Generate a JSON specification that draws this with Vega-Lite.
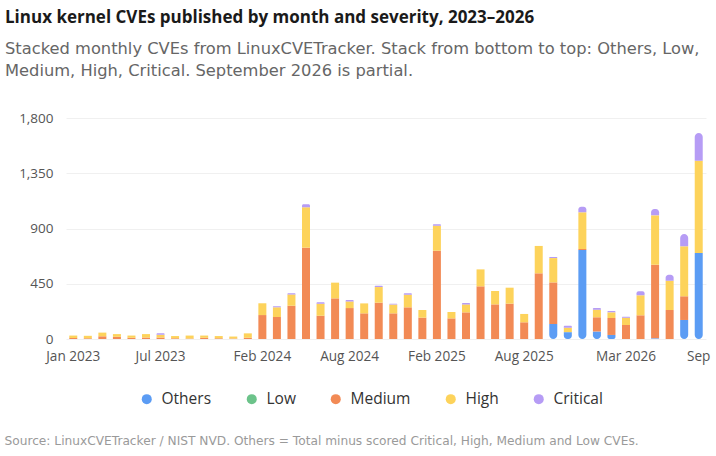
{
  "$schema": "https://vega.github.io/schema/vega-lite/v6.json",
  "width": 640,
  "height": 221,
  "autosize": {"type": "none"},
  "padding": {"left": 66, "top": 118, "right": 10, "bottom": 117},
  "background": "white",
  "title": {
    "text": "Linux kernel CVEs published by month and severity, 2023–2026",
    "subtitle": [
      "Stacked monthly CVEs from LinuxCVETracker. Stack from bottom to top: Others, Low,",
      "Medium, High, Critical. September 2026 is partial."
    ],
    "anchor": "start",
    "frame": "group",
    "dx": -61,
    "offset": 31,
    "font": "Open Sans",
    "fontSize": 17,
    "fontWeight": "bold",
    "color": "#1a1a1a",
    "subtitleFont": "DejaVu Sans",
    "subtitleFontSize": 16.3,
    "subtitleColor": "#666666",
    "subtitleLineHeight": 22,
    "subtitlePadding": 14
  },
  "data": {
    "values": [
      {"month": "2023-01", "Others": 0, "Medium": 8, "High": 20, "Critical": 0},
      {"month": "2023-02", "Others": 0, "Medium": 6, "High": 20, "Critical": 0},
      {"month": "2023-03", "Others": 0, "Medium": 22, "High": 30, "Critical": 0},
      {"month": "2023-04", "Others": 0, "Medium": 18, "High": 22, "Critical": 0},
      {"month": "2023-05", "Others": 0, "Medium": 10, "High": 18, "Critical": 0},
      {"month": "2023-06", "Others": 0, "Medium": 12, "High": 28, "Critical": 0},
      {"month": "2023-07", "Others": 0, "Medium": 12, "High": 22, "Critical": 12},
      {"month": "2023-08", "Others": 0, "Medium": 6, "High": 18, "Critical": 0},
      {"month": "2023-09", "Others": 0, "Medium": 4, "High": 24, "Critical": 0},
      {"month": "2023-10", "Others": 0, "Medium": 10, "High": 18, "Critical": 0},
      {"month": "2023-11", "Others": 0, "Medium": 6, "High": 18, "Critical": 0},
      {"month": "2023-12", "Others": 0, "Medium": 4, "High": 16, "Critical": 0},
      {"month": "2024-01", "Others": 0, "Medium": 10, "High": 36, "Critical": 0},
      {"month": "2024-02", "Others": 0, "Medium": 195, "High": 96, "Critical": 0},
      {"month": "2024-03", "Others": 0, "Medium": 179, "High": 79, "Critical": 8},
      {"month": "2024-04", "Others": 0, "Medium": 271, "High": 92, "Critical": 9},
      {"month": "2024-05", "Others": 0, "Medium": 744, "High": 329, "Critical": 24},
      {"month": "2024-06", "Others": 0, "Medium": 190, "High": 98, "Critical": 11},
      {"month": "2024-07", "Others": 0, "Medium": 331, "High": 128, "Critical": 0},
      {"month": "2024-08", "Others": 0, "Medium": 252, "High": 54, "Critical": 11},
      {"month": "2024-09", "Others": 0, "Medium": 209, "High": 81, "Critical": 0},
      {"month": "2024-10", "Others": 0, "Medium": 296, "High": 127, "Critical": 11},
      {"month": "2024-11", "Others": 0, "Medium": 209, "High": 71, "Critical": 8},
      {"month": "2024-12", "Others": 0, "Medium": 258, "High": 103, "Critical": 11},
      {"month": "2025-01", "Others": 0, "Medium": 174, "High": 62, "Critical": 0},
      {"month": "2025-02", "Others": 0, "Medium": 719, "High": 204, "Critical": 11},
      {"month": "2025-03", "Others": 0, "Medium": 168, "High": 52, "Critical": 0},
      {"month": "2025-04", "Others": 0, "Medium": 217, "High": 65, "Critical": 11},
      {"month": "2025-05", "Others": 0, "Medium": 429, "High": 138, "Critical": 0},
      {"month": "2025-06", "Others": 0, "Medium": 282, "High": 109, "Critical": 0},
      {"month": "2025-07", "Others": 0, "Medium": 288, "High": 130, "Critical": 0},
      {"month": "2025-08", "Others": 0, "Medium": 136, "High": 68, "Critical": 0},
      {"month": "2025-09", "Others": 0, "Medium": 535, "High": 223, "Critical": 0},
      {"month": "2025-10", "Others": 122, "Medium": 339, "High": 198, "Critical": 8},
      {"month": "2025-11", "Others": 54, "Medium": 0, "High": 38, "Critical": 16},
      {"month": "2025-12", "Others": 725, "Medium": 8, "High": 299, "Critical": 46},
      {"month": "2026-01", "Others": 60, "Medium": 117, "High": 62, "Critical": 14},
      {"month": "2026-02", "Others": 33, "Medium": 138, "High": 46, "Critical": 11},
      {"month": "2026-03", "Others": 0, "Medium": 114, "High": 60, "Critical": 8},
      {"month": "2026-04", "Others": 0, "Medium": 193, "High": 163, "Critical": 33},
      {"month": "2026-05", "Others": 5, "Medium": 600, "High": 402, "Critical": 52},
      {"month": "2026-06", "Others": 0, "Medium": 236, "High": 239, "Critical": 49},
      {"month": "2026-07", "Others": 155, "Medium": 193, "High": 407, "Critical": 100},
      {"month": "2026-09", "Others": 700, "Medium": 0, "High": 752, "Critical": 225}
    ]
  },
  "transform": [
    {"fold": ["Others", "Low", "Medium", "High", "Critical"], "as": ["severity", "count"]},
    {"filter": "datum.count > 0"},
    {"calculate": "indexof(['Others', 'Low', 'Medium', 'High', 'Critical'], datum.severity)", "as": "rank"},
    {"stack": "count", "groupby": ["month"], "sort": [{"field": "rank", "order": "ascending"}], "as": ["y0", "y1"]}
  ],
  "encoding": {
    "x": {
      "field": "month",
      "type": "ordinal",
      "scale": {"paddingInner": 0.45, "paddingOuter": 0.225},
      "axis": {
        "values": ["2023-01", "2023-07", "2024-02", "2024-08", "2025-02", "2025-08", "2026-03", "2026-09"],
        "labelExpr": "datum.value == '2026-09' ? 'Sep' : timeFormat(datetime(toNumber(slice(datum.value, 0, 4)), toNumber(slice(datum.value, 5, 7)) - 1, 1), '%b %Y')",
        "labelAngle": 0,
        "labelPadding": 10,
        "labelFontSize": 13.6,
        "labelColor": "#555555",
        "domain": false,
        "ticks": false,
        "grid": false,
        "title": "Source: LinuxCVETracker / NIST NVD. Others = Total minus scored Critical, High, Medium and Low CVEs.",
        "titleFont": "DejaVu Sans",
        "titleAnchor": "start",
        "titleAlign": "left",
        "titleBaseline": "middle",
        "titleX": -62,
        "titleY": 101,
        "titleFontSize": 12.2,
        "titleFontWeight": "normal",
        "titleColor": "#9a9a9a"
      }
    },
    "y": {
      "field": "y1",
      "type": "quantitative",
      "scale": {"domain": [0, 1800], "nice": false},
      "axis": {
        "values": [0, 450, 900, 1350, 1800],
        "format": ",d",
        "title": null,
        "domain": false,
        "ticks": false,
        "labelPadding": 13,
        "labelFontSize": 13.5,
        "labelColor": "#555555",
        "gridColor": "#f0f0f0"
      }
    },
    "y2": {"field": "y0"},
    "color": {
      "field": "severity",
      "type": "nominal",
      "scale": {
        "domain": ["Others", "Low", "Medium", "High", "Critical"],
        "range": ["#5b9cf4", "#6cc38a", "#f28a55", "#fdd35b", "#b69cf5"]
      },
      "legend": {
        "orient": "none",
        "direction": "horizontal",
        "legendX": 73,
        "legendY": 273,
        "title": null,
        "symbolType": "circle",
        "symbolSize": 100,
        "symbolStrokeWidth": 0,
        "labelFontSize": 15.5,
        "labelColor": "#333333",
        "labelOffset": 7,
        "columnPadding": 32
      }
    }
  },
  "layer": [
    {
      "transform": [{"filter": "datum.severity == 'Low' || datum.severity == 'Medium' || datum.severity == 'High'"}],
      "mark": {"type": "bar"}
    },
    {
      "transform": [{"filter": "datum.severity == 'Others'"}],
      "mark": {"type": "bar", "cornerRadiusBottomLeft": 4, "cornerRadiusBottomRight": 4}
    },
    {
      "transform": [{"filter": "datum.severity == 'Critical'"}],
      "mark": {"type": "bar", "cornerRadiusTopLeft": 4, "cornerRadiusTopRight": 4}
    }
  ],
  "config": {
    "font": "Open Sans",
    "view": {"stroke": null}
  }
}
